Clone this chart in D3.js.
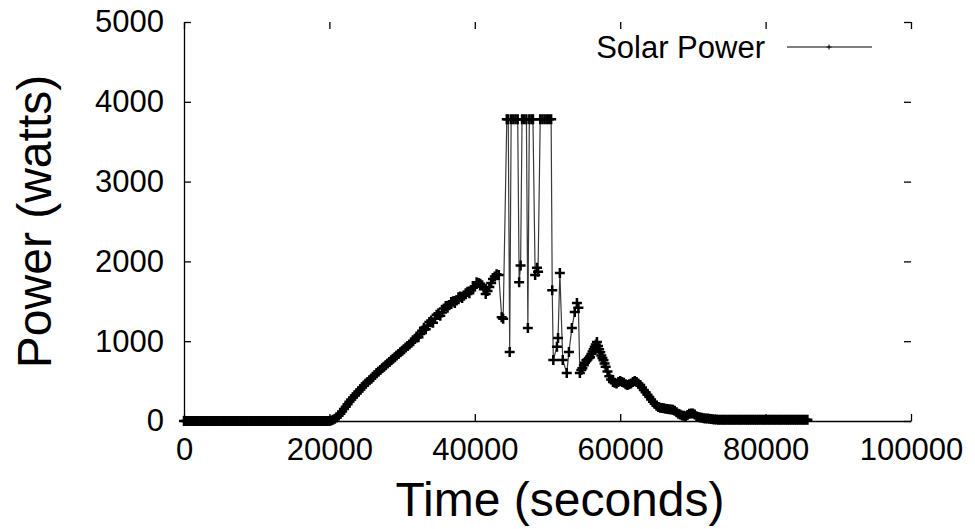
<!DOCTYPE html>
<html>
<head>
<meta charset="utf-8">
<script src="https://cdn.jsdelivr.net/npm/d3@7"></script>
<style>
  html, body { margin: 0; padding: 0; background: #fff; }
  svg { display: block; font-family: "Liberation Sans", Arial, Helvetica, sans-serif; }
</style>
</head>
<body>
<svg width="975" height="529"></svg>
<script>
// sample times (seconds) and solar power (watts)
// rows of ten line up between the two arrays
const time = [
  0, 250, 500, 750, 1000, 1250, 1500, 1750, 2000, 2250,
  2500, 2750, 3000, 3250, 3500, 3750, 4000, 4250, 4500, 4750,
  5000, 5250, 5500, 5750, 6000, 6250, 6500, 6750, 7000, 7250,
  7500, 7750, 8000, 8250, 8500, 8750, 9000, 9250, 9500, 9750,
  10000, 10250, 10500, 10750, 11000, 11250, 11500, 11750, 12000, 12250,
  12500, 12750, 13000, 13250, 13500, 13750, 14000, 14250, 14500, 14750,
  15000, 15250, 15500, 15750, 16000, 16250, 16500, 16750, 17000, 17250,
  17500, 17750, 18000, 18250, 18500, 18750, 19000, 19250, 19500, 19750,
  20000, 20250, 20500, 20750, 21000, 21250, 21500, 21750, 22000, 22250,
  22500, 22750, 23000, 23250, 23500, 23750, 24000, 24250, 24500, 24750,
  25000, 25250, 25500, 25750, 26000, 26250, 26500, 26750, 27000, 27250,
  27500, 27750, 28000, 28250, 28500, 28750, 29000, 29250, 29500, 29750,
  30000, 30250, 30500, 30750, 31000, 31250, 31500, 31750, 32000, 32250,
  32500, 32750, 33000, 33250, 33500, 33750, 34000, 34250, 34500, 34750,
  35000, 35250, 35500, 35750, 36000, 36250, 36500, 36750, 37000, 37250,
  37500, 37750, 38000, 38250, 38500, 38750, 39000, 39250, 39500, 39750,
  40000, 40250, 40500, 40750, 41000, 41250, 41500, 41750, 42000, 42250,
  42500, 42750, 43000, 43300, 43700, 43900, 44400, 44600, 44800, 45000,
  45300, 45600, 45900, 46100, 46300, 46500, 46800, 47100, 47300, 47500,
  47800, 48000, 48300, 48550, 48700, 49000, 49300, 49600, 49900, 50200,
  50500, 50650, 50800, 51300, 51450, 51700, 52100, 52650, 52950, 53350,
  53750, 54050, 54250, 54450, 54650, 54800, 55000, 55150, 55350, 55500,
  55700, 55850, 56050, 56200, 56350, 56500, 56650, 56800, 56950, 57100,
  57250, 57400, 57550, 57700, 57850, 58000, 58250, 58500, 58750, 59000,
  59250, 59500, 59750, 60000, 60250, 60500, 60750, 61000, 61250, 61500,
  61750, 62000, 62250, 62500, 62750, 63000, 63250, 63500, 63750, 64000,
  64250, 64500, 64750, 65000, 65250, 65500, 65750, 66000, 66250, 66500,
  66750, 67000, 67250, 67500, 67750, 68000, 68250, 68500, 68750, 69000,
  69250, 69500, 69750, 70000, 70250, 70500, 70750, 71000, 71250, 71500,
  71750, 72000, 72250, 72500, 72750, 73000, 73250, 73500, 73750, 74000,
  74250, 74500, 74750, 75000, 75250, 75500, 75750, 76000, 76250, 76500,
  76750, 77000, 77250, 77500, 77750, 78000, 78250, 78500, 78750, 79000,
  79250, 79500, 79750, 80000, 80250, 80500, 80750, 81000, 81250, 81500,
  81750, 82000, 82250, 82500, 82750, 83000, 83250, 83500, 83750, 84000,
  84250, 84500, 84750, 85000, 85250, 85500, 85750
]
const power = [
  0, 0, 0, 0, 0, 0, 0, 0, 0, 0,
  0, 0, 0, 0, 0, 0, 0, 0, 0, 0,
  0, 0, 0, 0, 0, 0, 0, 0, 0, 0,
  0, 0, 0, 0, 0, 0, 0, 0, 0, 0,
  0, 0, 0, 0, 0, 0, 0, 0, 0, 0,
  0, 0, 0, 0, 0, 0, 0, 0, 0, 0,
  0, 0, 0, 0, 0, 0, 0, 0, 0, 0,
  0, 0, 0, 0, 0, 0, 0, 0, 0, 0,
  0, 5, 15, 28, 45, 65, 90, 118, 150, 180,
  210, 240, 270, 295, 320, 345, 370, 395, 420, 445,
  470, 490, 510, 530, 550, 575, 600, 620, 640, 660,
  680, 700, 720, 740, 760, 780, 800, 820, 840, 860,
  880, 900, 920, 940, 960, 980, 1000, 1030, 1060, 1050,
  1090, 1130, 1170, 1150, 1190, 1240, 1260, 1230, 1280, 1330,
  1350, 1320, 1360, 1410, 1440, 1420, 1450, 1490, 1500, 1480,
  1510, 1550, 1560, 1540, 1570, 1600, 1620, 1600, 1640, 1670,
  1690, 1740, 1730, 1720, 1700, 1650, 1590, 1630, 1680, 1730,
  1780, 1810, 1840, 1830, 1300, 1280, 3780, 3780, 865, 3780,
  3780, 3780, 3780, 1740, 1950, 3780, 3780, 3780, 1165, 3780,
  3780, 3780, 1830, 1920, 1870, 3780, 3780, 3780, 3780, 3780,
  3780, 1640, 765, 930, 1040, 1855, 765, 600, 865, 1165,
  1365, 1480, 1420, 600, 640, 660, 700, 730, 760, 770,
  790, 800, 840, 870, 900, 930, 960, 990, 940, 900,
  860, 820, 790, 760, 720, 680, 620, 560, 520, 490,
  480, 470, 490, 500, 490, 480, 460, 450, 460, 470,
  490, 500, 490, 470, 450, 420, 390, 360, 330, 300,
  270, 240, 215, 190, 175, 165, 162, 160, 155, 150,
  148, 145, 140, 130, 110, 90, 80, 70, 65, 60,
  75, 90, 95, 95, 80, 60, 50, 45, 40, 35,
  32, 30, 27, 25, 22, 20, 18, 16, 15, 15,
  15, 15, 15, 15, 15, 15, 15, 15, 15, 15,
  15, 15, 15, 15, 15, 15, 15, 15, 15, 15,
  15, 15, 15, 15, 15, 15, 15, 15, 15, 15,
  15, 15, 15, 15, 15, 15, 15, 15, 15, 15,
  15, 15, 15, 15, 15, 15, 15
]
const xTicks = [0, 20000, 40000, 60000, 80000, 100000]
const yTicks = [0, 1000, 2000, 3000, 4000, 5000]
const seriesName = "Solar Power"

const data = time.map(function (t, i) { return { t: t, p: power[i] } })

const svg = d3.select("svg")
const plotLeft = 184, plotRight = 911, plotTop = 22, plotBottom = 421
const tickLen = 7

const x = d3.scaleLinear().domain([0, 100000]).range([plotLeft, plotRight])
const y = d3.scaleLinear().domain([0, 5000]).range([plotBottom, plotTop])

// bottom axis with labels
const gx = svg.append("g")
  .attr("transform", "translate(0," + plotBottom + ")")
  .call(d3.axisBottom(x).tickValues(xTicks).tickFormat(d3.format("d"))
    .tickSizeInner(-tickLen).tickSizeOuter(0).tickPadding(17))
gx.select(".domain").attr("stroke", "#000").attr("stroke-width", 1.3)
gx.selectAll("text").attr("font-size", 31).attr("fill", "#000")
  .attr("font-family", "Liberation Sans, Arial, sans-serif")

// left axis with labels
const gy = svg.append("g")
  .attr("transform", "translate(" + plotLeft + ",0)")
  .call(d3.axisLeft(y).tickValues(yTicks).tickFormat(d3.format("d"))
    .tickSizeInner(-tickLen).tickSizeOuter(0).tickPadding(20))
gy.select(".domain").attr("stroke", "#000").attr("stroke-width", 1.3)
gy.selectAll("text").attr("font-size", 31).attr("fill", "#000")
  .attr("font-family", "Liberation Sans, Arial, sans-serif")

// mirrored ticks on top and right, no border line
const gt = svg.append("g")
  .attr("transform", "translate(0," + plotTop + ")")
  .call(d3.axisTop(x).tickValues(xTicks).tickFormat("").tickSizeInner(-tickLen).tickSizeOuter(0))
gt.select(".domain").remove()
const gr = svg.append("g")
  .attr("transform", "translate(" + plotRight + ",0)")
  .call(d3.axisRight(y).tickValues(yTicks).tickFormat("").tickSizeInner(-tickLen).tickSizeOuter(0))
gr.select(".domain").remove()

svg.selectAll(".tick line").attr("stroke", "#000").attr("stroke-width", 1.3)

// axis titles
svg.append("text")
  .attr("x", 560)
  .attr("y", 516)
  .attr("text-anchor", "middle")
  .attr("font-size", 48)
  .text("Time (seconds)")

svg.append("text")
  .attr("transform", "translate(51," + (plotTop + plotBottom) / 2 + ") rotate(-90)")
  .attr("text-anchor", "middle")
  .attr("font-size", 48)
  .text("Power (watts)")

// the series: thin connecting line plus "+" markers
const line = d3.line().x(function (d) { return x(d.t) }).y(function (d) { return y(d.p) })

svg.append("path")
  .datum(data)
  .attr("fill", "none")
  .attr("stroke", "#3a3a3a")
  .attr("stroke-width", 1.2)
  .attr("d", line)

svg.append("g")
  .selectAll("path")
  .data(data)
  .enter()
  .append("path")
  .attr("transform", function (d) { return "translate(" + x(d.t) + "," + y(d.p) + ")" })
  .attr("d", "M-5,0H5M0,-5V5")
  .attr("stroke", "#000")
  .attr("stroke-width", 2.5)
  .attr("fill", "none")

// legend
const legend = svg.append("g").attr("id", "legend")
legend.append("text")
  .attr("x", 765)
  .attr("y", 58)
  .attr("text-anchor", "end")
  .attr("font-size", 31)
  .text(seriesName)
legend.append("line")
  .attr("x1", 787).attr("x2", 872)
  .attr("y1", 47).attr("y2", 47)
  .attr("stroke", "#000").attr("stroke-width", 1)
legend.append("path")
  .attr("transform", "translate(829,47)")
  .attr("d", "M-2.5,0H2.5M0,-2.5V2.5")
  .attr("stroke", "#000").attr("stroke-width", 1)
</script>
</body>
</html>
